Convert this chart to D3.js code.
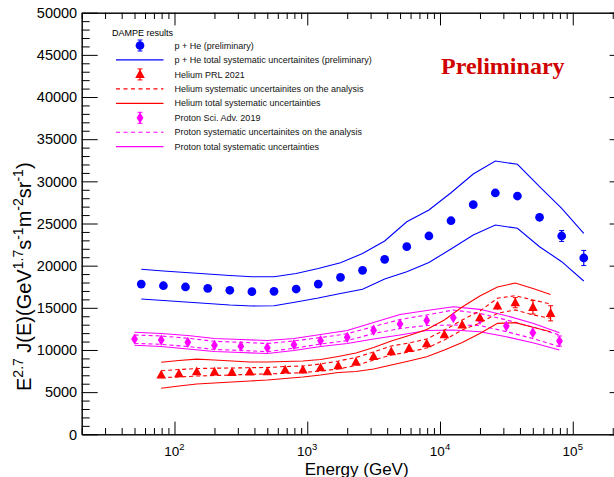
<!DOCTYPE html>
<html>
<head>
<meta charset="utf-8">
<script src="https://cdn.jsdelivr.net/npm/d3@7"></script>
<style>
body { margin: 0; background: #fff; }
svg { display: block; font-family: "Liberation Sans", Arial, sans-serif; }
</style>
</head>
<body>
<div id="chart"></div>
<script>
// p + He (preliminary)
const pheE = [56.2, 82.5, 121, 178, 261, 383, 562, 825, 1210, 1780, 2610, 3830, 5620, 8250, 12100, 17800, 26100, 38300, 56200, 82500, 121000]
const pheFlux = [17820, 17620, 17470, 17310, 17080, 16910, 16960, 17230, 17820, 18620, 19450, 20750, 22250, 23520, 25330, 27230, 28620, 28260, 25740, 23520, 20910]
const pheErr = [60, 60, 60, 60, 60, 60, 60, 70, 80, 90, 110, 130, 160, 200, 250, 300, 360, 420, 500, 650, 900]
const pheSysHi = [19570, 19370, 19190, 19010, 18830, 18690, 18690, 19070, 19660, 20350, 21440, 22920, 25210, 26600, 28650, 30870, 32410, 32020, 29360, 26800, 23840]
const pheSysLo = [16050, 15870, 15690, 15510, 15330, 15220, 15250, 15690, 16160, 16700, 17200, 18420, 19280, 20370, 21980, 23640, 24820, 24430, 22250, 20470, 18180]

// Helium PRL 2021
const heE = [79.4, 108, 147, 200, 271, 369, 501, 681, 927, 1259, 1710, 2328, 3162, 4295, 5848, 7943, 10790, 14690, 19950, 27100, 36900, 50120, 68080]
const heFlux = [7030, 7190, 7420, 7390, 7350, 7390, 7420, 7630, 7630, 7900, 8140, 8570, 9230, 9800, 10200, 10740, 11810, 12960, 13830, 15220, 15610, 15060, 14350]
const heErr = [40, 40, 40, 40, 40, 40, 50, 50, 60, 70, 80, 90, 110, 130, 160, 200, 250, 300, 400, 470, 600, 800, 900]
const heAnaHi = [7540, 7680, 7800, 7840, 7860, 7900, 7920, 8040, 8100, 8340, 8690, 9110, 9760, 10470, 10830, 11300, 12370, 13560, 14620, 16130, 16440, 15930, 15450]
const heAnaLo = [6710, 6800, 6910, 6970, 7030, 7120, 7150, 7230, 7310, 7510, 7740, 8160, 8810, 9400, 9760, 10230, 11180, 12370, 13200, 14350, 14750, 14160, 13760]
const heTotHi = [8540, 8750, 8910, 8810, 8690, 8570, 8570, 8630, 8690, 8870, 9230, 9640, 10290, 11060, 11720, 12430, 13560, 15100, 16400, 17470, 17940, 17290, 16580]
const heTotLo = [5460, 5730, 5970, 6080, 6200, 6320, 6440, 6620, 6800, 7030, 7330, 7450, 7740, 8220, 8690, 9200, 10000, 10890, 11950, 13160, 13240, 12700, 12170]

// Proton Sci. Adv. 2019
const pE = [50, 79.4, 126, 200, 316, 500, 794, 1260, 2000, 3160, 5000, 7940, 12600, 20000, 31600, 50000, 79400]
const pFlux = [11300, 11180, 10910, 10560, 10440, 10270, 10630, 11100, 11500, 12350, 13080, 13500, 13830, 13640, 12840, 12050, 11060]
const pErr = [30, 30, 30, 30, 30, 30, 40, 40, 50, 60, 80, 100, 130, 180, 300, 450, 600]
const pAnaHi = [11780, 11660, 11390, 11030, 10910, 10770, 11070, 11480, 11920, 12780, 13610, 14150, 14740, 14330, 13560, 12730, 11780]
const pAnaLo = [10790, 10670, 10410, 10060, 9940, 9800, 10200, 10710, 11110, 11950, 12550, 12900, 12960, 12900, 12170, 11360, 10390]
const pTotHi = [12100, 11950, 11720, 11360, 11240, 11120, 11360, 11840, 12310, 13260, 14210, 14680, 15130, 14820, 14070, 13160, 12050]
const pTotLo = [10560, 10410, 10120, 9820, 9700, 9580, 9940, 10410, 10770, 11300, 11780, 12310, 12370, 12170, 11570, 10860, 10000]

const xMajor = [100, 1000, 10000, 100000]
const xLabelExp = ["2", "3", "4", "5"]
const yMajor = [0, 5000, 10000, 15000, 20000, 25000, 30000, 35000, 40000, 45000, 50000]

const legendItems = [
  {label: "p + He (preliminary)", kind: "circle", color: "#0000ff"},
  {label: "p + He total systematic uncertainites (preliminary)", kind: "line", color: "#0000ff"},
  {label: "Helium PRL 2021", kind: "triangle", color: "#ff0000"},
  {label: "Helium systematic uncertainites on the analysis", kind: "dash", color: "#ff0000"},
  {label: "Helium total systematic uncertainties", kind: "line", color: "#ff0000"},
  {label: "Proton Sci. Adv. 2019", kind: "diamond", color: "#ff00ff"},
  {label: "Proton systematic uncertainites on the analysis", kind: "dash", color: "#ff00ff"},
  {label: "Proton total systematic uncertainties", kind: "line", color: "#ff00ff"}
]

//constants
const width = 614
const height = 477
const margins = {top: 12.7, bottom: 42.7, left: 81.7}
const plotRight = 625.6

//scales
const xScale = d3.scaleLog()
  .domain([20, 250000])
  .range([margins.left, plotRight])
const yScale = d3.scaleLinear()
  .domain([0, 50000])
  .range([height - margins.bottom, margins.top])

const xMinor = []
for (let p = 1; p <= 5; p++) {
  for (let k = 2; k <= 9; k++) {
    const v = k * Math.pow(10, p)
    if (v >= 20 && v <= 250000) xMinor.push(v)
  }
}
const yMinor = d3.range(0, 50001, 1000).filter(v => v % 5000 !== 0)

const svg = d3.select("#chart")
  .append("svg")
  .attr("width", width)
  .attr("height", height)

const y0 = height - margins.bottom

//axes: ticks pointing inwards on all four sides
function tickAxis(axis, tx, ty, values, size) {
  svg.append("g")
    .attr("transform", `translate(${tx},${ty})`)
    .call(axis.tickValues(values).tickSize(-size).tickSizeOuter(0).tickFormat(""))
    .call(g => g.selectAll("line").attr("stroke", "#000"))
    .call(g => g.select(".domain").attr("stroke", "#000"))
}
tickAxis(d3.axisBottom(xScale), 0, y0, xMajor, 12.7)
tickAxis(d3.axisBottom(xScale), 0, y0, xMinor, 6.3)
tickAxis(d3.axisTop(xScale), 0, margins.top, xMajor, 12.7)
tickAxis(d3.axisTop(xScale), 0, margins.top, xMinor, 6.3)
tickAxis(d3.axisLeft(yScale), margins.left, 0, yMajor, 16)
tickAxis(d3.axisLeft(yScale), margins.left, 0, yMinor, 8)
tickAxis(d3.axisRight(yScale), plotRight, 0, yMajor, 16)
tickAxis(d3.axisRight(yScale), plotRight, 0, yMinor, 8)

//y tick labels
svg.selectAll("text.ylab")
  .data(yMajor)
  .join("text")
  .attr("class", "ylab")
  .attr("x", margins.left - 4.5)
  .attr("y", d => yScale(d))
  .attr("dy", "0.36em")
  .attr("text-anchor", "end")
  .attr("font-size", 14.5)
  .text(d => d)

//x tick labels 10^n
const xl = svg.selectAll("text.xlab")
  .data(xMajor)
  .join("text")
  .attr("class", "xlab")
  .attr("x", d => xScale(d))
  .attr("y", 455.5)
  .attr("text-anchor", "middle")
  .attr("font-size", 13.5)
xl.append("tspan").text("10")
xl.append("tspan").attr("dy", -6).attr("font-size", 9.5).text((d, i) => xLabelExp[i])

//axis titles
svg.append("text")
  .attr("x", (margins.left + plotRight) / 2 + 3)
  .attr("y", 474.5)
  .attr("text-anchor", "middle")
  .attr("font-size", 17)
  .text("Energy (GeV)")

// y title: pieces of [text, isSuperscript]
const yTitleParts = [["E", 0], ["2.7", 1], [" J(E)(GeV", 0], ["1.7", 1], ["s", 0], ["-1", 1], ["m", 0], ["-2", 1], ["sr", 0], ["-1", 1], [")", 0]]
const yt = svg.append("text")
  .attr("transform", "translate(31,391) rotate(-90)")
  .attr("font-size", 20)
let prevSup = 0
yTitleParts.forEach(([t, s]) => {
  yt.append("tspan")
    .attr("dy", s === prevSup ? 0 : (s ? -8 : 8))
    .attr("font-size", s ? 14 : 20)
    .text(t)
  prevSup = s
})

//bands
const line = d3.line().x(d => xScale(d[0])).y(d => yScale(d[1]))
function band(xs, ys, color, dashed) {
  svg.append("path")
    .attr("d", line(xs.map((v, i) => [v, ys[i]])))
    .attr("fill", "none")
    .attr("stroke", color)
    .attr("stroke-width", 1.1)
    .attr("stroke-dasharray", dashed ? "4,3" : null)
}
band(pE, pTotHi, "#ff00ff")
band(pE, pTotLo, "#ff00ff")
band(pE, pAnaHi, "#ff00ff", true)
band(pE, pAnaLo, "#ff00ff", true)
band(heE, heTotHi, "#ff0000")
band(heE, heTotLo, "#ff0000")
band(heE, heAnaHi, "#ff0000", true)
band(heE, heAnaLo, "#ff0000", true)
band(pheE, pheSysHi, "#0000ff")
band(pheE, pheSysLo, "#0000ff")

//markers
function markerPath(kind) {
  if (kind === "circle") return d3.symbol(d3.symbolCircle, 60)()
  if (kind === "triangle") return "M0,-5.2L4.8,3.6L-4.8,3.6Z"
  return "M0,-5.6L3.4,0L0,5.6L-3.4,0Z"
}
function errBar(g, cx, cy, lo, hi, color) {
  g.append("line").attr("x1", cx).attr("x2", cx).attr("y1", lo).attr("y2", hi)
    .attr("stroke", color).attr("stroke-width", 1.2)
  if (lo - cy > 4.5) {
    g.append("line").attr("x1", cx - 2.5).attr("x2", cx + 2.5).attr("y1", lo).attr("y2", lo).attr("stroke", color)
    g.append("line").attr("x1", cx - 2.5).attr("x2", cx + 2.5).attr("y1", hi).attr("y2", hi).attr("stroke", color)
  }
}
function points(xs, ys, es, kind, color) {
  const g = svg.append("g")
  xs.forEach((v, i) => {
    const cx = xScale(v), cy = yScale(ys[i])
    errBar(g, cx, cy, yScale(ys[i] - es[i]), yScale(ys[i] + es[i]), color)
  })
  g.selectAll("path")
    .data(xs)
    .join("path")
    .attr("d", markerPath(kind))
    .attr("transform", (d, i) => `translate(${xScale(d)},${yScale(ys[i])})`)
    .attr("fill", color)
}
points(pE, pFlux, pErr, "diamond", "#ff00ff")
points(heE, heFlux, heErr, "triangle", "#ff0000")
points(pheE, pheFlux, pheErr, "circle", "#0000ff")

//legend
svg.append("text")
  .attr("x", 112)
  .attr("y", 36)
  .attr("font-size", 9)
  .text("DAMPE results")
const rowY = d3.scaleLinear().domain([0, 7]).range([45.5, 146.7])
const lg = svg.append("g")
legendItems.forEach((d, i) => {
  const yy = rowY(i)
  if (d.kind === "line" || d.kind === "dash") {
    lg.append("line").attr("x1", 116).attr("x2", 163.5).attr("y1", yy).attr("y2", yy)
      .attr("stroke", d.color).attr("stroke-width", 1.2)
      .attr("stroke-dasharray", d.kind === "dash" ? "4,3.5" : null)
  } else {
    errBar(lg, 140, yy, yy + 5.5, yy - 5.5, d.color)
    lg.append("path").attr("d", markerPath(d.kind))
      .attr("transform", `translate(140,${yy})`).attr("fill", d.color)
  }
  lg.append("text")
    .attr("x", 174.5)
    .attr("y", yy)
    .attr("dy", "0.35em")
    .attr("font-size", 9)
    .attr("fill", "#111")
    .text(d.label)
})

svg.append("text")
  .attr("x", 441)
  .attr("y", 73.5)
  .attr("font-family", "'Liberation Serif', 'Times New Roman', serif")
  .attr("font-weight", "bold")
  .attr("font-size", 24)
  .attr("fill", "#d10000")
  .text("Preliminary")
</script>
</body>
</html>
